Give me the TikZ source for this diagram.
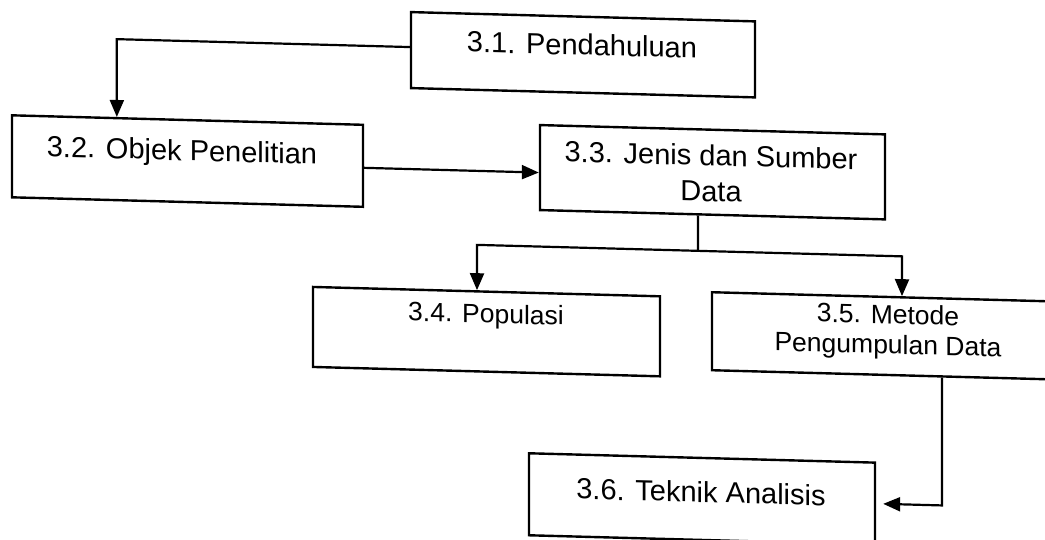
\documentclass[tikz,border=0pt]{standalone}
\usepackage{fontspec}
\setmainfont{Liberation Sans}
\usetikzlibrary{arrows.meta,calc}

\tikzset{
  box/.style={draw, line width=2.4pt, inner sep=0pt, rectangle},
  lbl/.style={inner sep=0pt, align=center, font=\fontsize{29}{36}\selectfont},
  lblsmall/.style={inner sep=0pt, align=center, font=\fontsize{26.5}{30}\selectfont},
  link/.style={line width=2.2pt},
  arr/.style={line width=2.2pt, -{Triangle[length=17pt,width=14pt]}},
}

\begin{document}
\begin{tikzpicture}[x=1pt,y=-1pt]
\useasboundingbox (0,0) rectangle (1045,540);
\clip (0,0) rectangle (1045,540);
\fill[white] (0,0) rectangle (1045,540);

\begin{scope}[transform canvas={yslant=-0.027}]
  % chapter outline boxes
  \node[box, minimum width=344pt, minimum height=76pt] (b31) at (583,39) {};
  \node[box, minimum width=351pt, minimum height=82pt] (b32) at (187.5,156) {};
  \node[box, minimum width=345pt, minimum height=85pt] (b33) at (712.5,153) {};
  \node[box, minimum width=347pt, minimum height=80pt] (b34) at (486.5,318.5) {};
  \node[box, minimum width=352pt, minimum height=78pt] (b35) at (888,312) {};
  \node[box, minimum width=346pt, minimum height=82pt] (b36) at (702,480) {};

  % titles
  \node[lbl] (t31) at (582,29) {3.1. Pendahuluan};
  \node[lbl] (t32) at (182,148) {3.2. Objek Penelitian};
  \node[lbl] (t33) at (711,154) {3.3. Jenis dan Sumber\\Data};
  \node[lblsmall] (t34) at (486,303) {3.4. Populasi};
  \node[lblsmall] (t35) at (888,308) {3.5. Metode\\Pengumpulan Data};
  \node[lbl] (t36) at (701,473) {3.6. Teknik Analisis};

  % connectors
  \draw[arr] ([yshift=3pt]b31.west) -| ($(b32.north west)!0.3!(b32.north east)$);
  \draw[arr] ([yshift=-2pt]b32.east) -- ([yshift=-2pt]b32.east -| b33.west);
  \coordinate (split) at (698,232);
  \draw[link] (b33.south -| split) -- (split);
  \draw[arr] (split) -| ([xshift=-9.5pt]b34.north);
  \draw[arr] (split) -| ([xshift=14pt]b35.north);
  \draw[arr] ([xshift=54pt]b35.south) |- ([xshift=7pt]b36.east);
\end{scope}
\end{tikzpicture}
\end{document}
